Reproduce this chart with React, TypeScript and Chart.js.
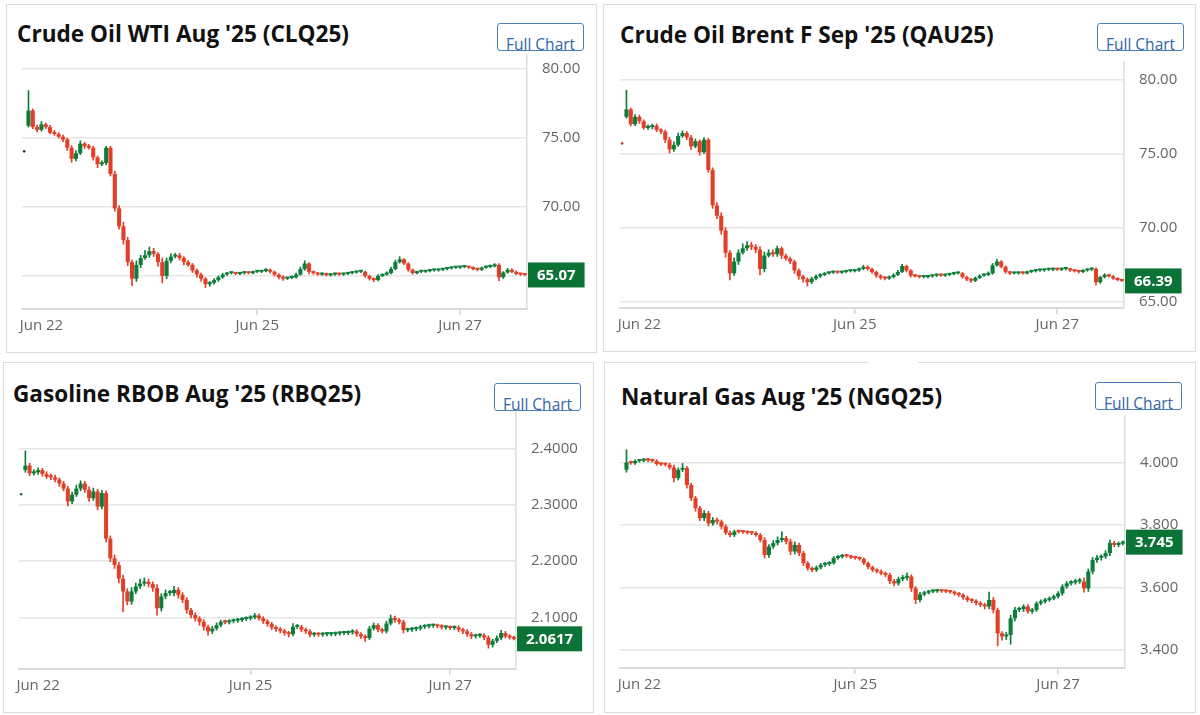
import React, { useEffect, useRef } from "react";
import { Chart, registerables } from "chart.js";
Chart.register(...registerables);

// ---------- shared axis data ----------
const xTickLabels = ["Jun 22", "Jun 25", "Jun 27"];
const xTickSlots = [4, 54, 101];
const slotCount = 117; // slot 0 = previous settlement dot, slots 1..116 = hourly candles

// ---------- Crude Oil WTI ----------
const wtiFirstOpen = 75.9;
const wtiPrevSettle = 74.04;
const wtiTicks = [65, 70, 75, 80];
const wtiClose = [
  77.0, 75.8, 75.6, 76.0, 75.8, 75.4, 75.3, 75.1, 74.9, 74.3,
  73.5, 73.9, 74.6, 74.4, 74.3, 73.6, 73.1, 73.2, 74.3, 72.4,
  69.9, 68.6, 67.6, 66.0, 64.8, 65.8, 66.3, 66.5, 66.8, 66.6,
  66.0, 65.0, 66.1, 66.4, 66.5, 66.3, 66.0, 65.8, 65.4, 65.1,
  64.8, 64.4, 64.5, 64.7, 64.9, 65.1, 65.2, 65.2, 65.15, 65.2,
  65.25, 65.2, 65.3, 65.3, 65.35, 65.45, 65.3, 65.1, 64.9, 64.8,
  64.85, 64.9, 65.1, 65.5, 65.9, 65.3, 65.2, 65.1, 65.15, 65.05,
  65.1, 65.15, 65.1, 65.15, 65.2, 65.25, 65.3, 65.3, 65.0, 64.8,
  64.7, 65.0, 65.1, 65.2, 65.5, 66.0, 66.2, 65.9, 65.45, 65.2,
  65.3, 65.3, 65.35, 65.4, 65.4, 65.45, 65.5, 65.55, 65.6, 65.6,
  65.65, 65.65, 65.6, 65.5, 65.45, 65.6, 65.65, 65.7, 65.8, 64.9,
  65.25, 65.45, 65.3, 65.15, 65.1, 65.07,
];
const wtiWickUp = [
  1.45, .12, .15, .2, .1, .12, .15, .1, .12, .1,
  .15, .2, .2, .1, .15, .12, .1, .15, .1, .1,
  .2, .2, .3, .2, .15, .3, .2, .35, .3, .2,
  .1, .3, .2, .2, .15, .15, .1, .12, .1, .1,
  .1, .08, .1, .1, .1, .1, .06, .06, .06, .06,
  .06, .06, .06, .1, .06, .08, .06, .06, .06, .1,
  .06, .1, .1, .15, .2, .06, .06, .06, .06, .06,
  .06, .06, .06, .06, .06, .06, .06, .06, .06, .06,
  .06, .1, .06, .1, .15, .15, .2, .06, .06, .06,
  .06, .06, .06, .06, .06, .06, .06, .06, .06, .06,
  .06, .06, .06, .06, .06, .06, .06, .1, .1, .1,
  .06, .1, .06, .06, .06, .03,
];
const wtiWickDown = [
  .1, .12, .15, .1, .12, .1, .1, .1, .15, .2,
  .25, .15, .1, .15, .1, .2, .25, .1, .15, .15,
  .2, .2, .3, .25, .5, .2, .2, .1, .15, .2,
  .3, .5, .2, .15, .1, .15, .2, .1, .15, .2,
  .2, .25, .15, .1, .1, .08, .06, .06, .06, .06,
  .06, .06, .06, .06, .06, .06, .1, .1, .12, .12,
  .06, .06, .06, .06, .1, .15, .08, .06, .06, .06,
  .06, .06, .06, .06, .06, .06, .06, .06, .1, .1,
  .12, .06, .06, .06, .06, .06, .06, .08, .12, .08,
  .06, .06, .06, .06, .06, .06, .06, .06, .06, .06,
  .06, .06, .06, .06, .08, .06, .06, .06, .06, .25,
  .08, .06, .06, .06, .06, .03,
];

// ---------- Crude Oil Brent ----------
const brentFirstOpen = 77.5;
const brentPrevSettle = 75.7;
const brentTicks = [65, 70, 75, 80];
const brentClose = [
  78.0, 77.0, 77.5, 77.2, 76.75, 76.8, 76.9, 76.6, 76.5, 75.95,
  75.3, 75.6, 76.2, 76.4, 76.1, 75.5, 75.85, 75.1, 75.95, 73.9,
  71.5, 70.8, 69.8, 68.3, 66.9, 67.7, 68.3, 68.6, 68.8, 68.7,
  68.5, 67.2, 68.1, 68.3, 68.2, 68.6, 68.1, 67.9, 67.7, 67.1,
  66.7, 66.5, 66.3, 66.55, 66.7, 66.8, 66.9, 66.95, 67.0, 66.95,
  67.0, 67.05, 67.05, 67.1, 67.2, 67.35, 67.2, 67.0, 66.75, 66.6,
  66.55, 66.65, 66.8, 67.0, 67.4, 67.1, 66.75, 66.7, 66.65, 66.65,
  66.7, 66.75, 66.8, 66.75, 66.8, 66.85, 66.9, 66.9, 66.65, 66.5,
  66.4, 66.6, 66.75, 66.8, 66.9, 67.45, 67.7, 67.35, 67.0, 66.9,
  66.9, 66.95, 66.9, 67.0, 67.05, 67.1, 67.1, 67.15, 67.15, 67.2,
  67.15, 67.2, 67.2, 67.1, 67.05, 67.0, 67.1, 67.15, 67.2, 66.3,
  66.65, 66.8, 66.7, 66.55, 66.45, 66.39,
];
const brentWickUp = [
  1.3, .1, .15, .12, .1, .15, .1, .12, .1, .1,
  .15, .2, .2, .15, .1, .15, .15, .1, .15, .1,
  .15, .2, .2, .2, .15, .25, .2, .3, .25, .2,
  .15, .2, .25, .2, .2, .15, .1, .1, .1, .1,
  .1, .08, .1, .1, .1, .08, .06, .06, .06, .06,
  .06, .06, .08, .06, .08, .1, .06, .06, .06, .06,
  .06, .08, .08, .1, .12, .06, .06, .06, .06, .06,
  .06, .06, .06, .06, .06, .06, .08, .06, .06, .06,
  .06, .06, .06, .08, .1, .12, .15, .06, .06, .06,
  .06, .06, .06, .06, .06, .06, .06, .06, .06, .06,
  .06, .06, .06, .06, .06, .06, .06, .06, .1, .08,
  .06, .08, .06, .06, .06, .03,
];
const brentWickDown = [
  .1, .12, .1, .15, .1, .1, .12, .1, .15, .2,
  .25, .15, .1, .1, .15, .2, .1, .2, .1, .15,
  .2, .2, .25, .3, .45, .15, .2, .1, .15, .2,
  .2, .4, .2, .1, .15, .15, .2, .1, .15, .2,
  .2, .2, .25, .1, .1, .08, .06, .06, .06, .06,
  .06, .06, .06, .06, .06, .06, .08, .1, .12, .1,
  .1, .06, .06, .06, .06, .1, .1, .06, .06, .06,
  .06, .06, .06, .06, .06, .06, .06, .06, .08, .1,
  .12, .06, .06, .06, .06, .06, .06, .08, .1, .08,
  .06, .06, .06, .06, .06, .06, .06, .06, .06, .06,
  .06, .06, .06, .06, .06, .08, .06, .06, .06, .2,
  .08, .06, .06, .06, .06, .03,
];

// ---------- Gasoline RBOB ----------
const gasFirstOpen = 2.362;
const gasPrevSettle = 2.3188;
const gasTicks = [2.1, 2.2, 2.3, 2.4];
const gasClose = [
  2.370, 2.356, 2.358, 2.362, 2.355, 2.350, 2.349, 2.345, 2.338, 2.329,
  2.306, 2.318, 2.329, 2.338, 2.327, 2.312, 2.324, 2.297, 2.321, 2.240,
  2.205, 2.193, 2.169, 2.146, 2.128, 2.146, 2.155, 2.160, 2.163, 2.159,
  2.152, 2.116, 2.137, 2.143, 2.143, 2.149, 2.140, 2.131, 2.113, 2.104,
  2.098, 2.092, 2.083, 2.075, 2.080, 2.086, 2.092, 2.091, 2.093, 2.094,
  2.095, 2.097, 2.098, 2.100, 2.103, 2.098, 2.093, 2.088, 2.082, 2.079,
  2.076, 2.072, 2.070, 2.083, 2.083, 2.078, 2.075, 2.069, 2.070, 2.069,
  2.070, 2.070, 2.070, 2.071, 2.072, 2.072, 2.073, 2.075, 2.070, 2.066,
  2.063, 2.080, 2.086, 2.078, 2.075, 2.089, 2.098, 2.095, 2.092, 2.077,
  2.078, 2.079, 2.080, 2.083, 2.084, 2.085, 2.085, 2.084, 2.082, 2.082,
  2.081, 2.082, 2.078, 2.075, 2.070, 2.066, 2.067, 2.068, 2.064, 2.051,
  2.058, 2.063, 2.072, 2.066, 2.064, 2.0617,
];
const gasWickUp = [
  .026, .004, .005, .004, .003, .004, .005, .004, .003, .004,
  .004, .005, .006, .005, .004, .005, .006, .004, .005, .004,
  .005, .006, .005, .006, .005, .007, .006, .008, .007, .005,
  .004, .006, .005, .006, .005, .006, .004, .004, .004, .003,
  .004, .003, .004, .003, .004, .004, .003, .003, .003, .003,
  .003, .003, .003, .003, .004, .003, .003, .003, .003, .003,
  .003, .003, .003, .006, .004, .003, .003, .003, .003, .003,
  .003, .003, .003, .003, .003, .003, .003, .003, .003, .003,
  .003, .004, .004, .003, .003, .004, .006, .004, .003, .003,
  .003, .003, .003, .003, .003, .003, .003, .003, .003, .003,
  .003, .003, .003, .003, .003, .003, .003, .003, .003, .003,
  .003, .004, .005, .003, .003, .002,
];
const gasWickDown = [
  .004, .004, .003, .004, .004, .003, .004, .004, .005, .004,
  .008, .004, .003, .004, .005, .006, .004, .006, .004, .006,
  .006, .006, .008, .036, .006, .005, .004, .004, .004, .005,
  .006, .012, .005, .004, .004, .005, .006, .005, .006, .005,
  .005, .006, .006, .007, .004, .003, .003, .003, .003, .003,
  .003, .003, .003, .003, .003, .003, .004, .004, .004, .004,
  .004, .004, .005, .003, .003, .004, .004, .004, .003, .003,
  .003, .003, .003, .003, .003, .003, .003, .003, .004, .004,
  .006, .003, .003, .004, .003, .003, .003, .004, .004, .005,
  .003, .003, .003, .003, .003, .003, .003, .003, .003, .003,
  .003, .003, .004, .004, .004, .004, .003, .003, .004, .006,
  .004, .003, .003, .003, .003, .002,
];

// ---------- Natural Gas ----------
const ngFirstOpen = 3.977;
const ngPrevSettle = null;
const ngTicks = [3.4, 3.6, 3.8, 4.0];
const ngClose = [
  4.000, 3.998, 4.005, 4.006, 4.009, 4.007, 4.005, 3.995, 3.994, 3.993,
  3.984, 3.950, 3.977, 3.982, 3.928, 3.886, 3.854, 3.822, 3.838, 3.805,
  3.816, 3.811, 3.795, 3.775, 3.768, 3.779, 3.778, 3.777, 3.775, 3.774,
  3.768, 3.752, 3.704, 3.731, 3.742, 3.752, 3.758, 3.747, 3.715, 3.736,
  3.710, 3.678, 3.661, 3.656, 3.664, 3.672, 3.675, 3.678, 3.694, 3.698,
  3.702, 3.700, 3.696, 3.694, 3.691, 3.678, 3.665, 3.656, 3.651, 3.645,
  3.640, 3.620, 3.613, 3.627, 3.631, 3.635, 3.597, 3.560, 3.578, 3.583,
  3.587, 3.588, 3.589, 3.588, 3.587, 3.585, 3.580, 3.576, 3.568, 3.560,
  3.557, 3.550, 3.544, 3.539, 3.560, 3.528, 3.453, 3.443, 3.448, 3.501,
  3.528, 3.531, 3.539, 3.523, 3.528, 3.549, 3.555, 3.560, 3.565, 3.571,
  3.581, 3.603, 3.613, 3.616, 3.619, 3.619, 3.597, 3.651, 3.688, 3.695,
  3.699, 3.710, 3.742, 3.736, 3.740, 3.745,
];
const ngWickUp = [
  .041, .005, .004, .004, .004, .004, .004, .004, .004, .004,
  .005, .008, .006, .015, .006, .006, .006, .006, .008, .006,
  .008, .006, .005, .006, .006, .005, .004, .004, .004, .004,
  .005, .005, .008, .006, .008, .010, .020, .006, .008, .010,
  .006, .006, .005, .005, .005, .005, .005, .005, .005, .005,
  .004, .004, .004, .004, .004, .004, .004, .004, .004, .005,
  .005, .006, .006, .006, .008, .012, .006, .006, .006, .005,
  .004, .004, .004, .004, .004, .004, .004, .004, .004, .004,
  .004, .004, .005, .006, .025, .008, .006, .006, .008, .010,
  .008, .006, .006, .006, .005, .005, .005, .005, .005, .005,
  .006, .006, .006, .006, .008, .010, .012, .008, .008, .008,
  .006, .008, .010, .006, .006, .004,
];
const ngWickDown = [
  .008, .004, .004, .004, .004, .004, .004, .004, .004, .004,
  .006, .012, .006, .006, .010, .008, .010, .008, .008, .008,
  .006, .008, .008, .006, .006, .005, .004, .004, .004, .005,
  .005, .006, .010, .008, .006, .006, .006, .008, .010, .008,
  .008, .008, .006, .006, .005, .005, .005, .005, .004, .004,
  .004, .004, .004, .004, .004, .005, .006, .006, .005, .005,
  .006, .008, .008, .006, .006, .008, .010, .012, .006, .005,
  .004, .004, .004, .004, .004, .004, .005, .005, .006, .006,
  .006, .006, .006, .008, .008, .010, .040, .012, .010, .030,
  .008, .006, .008, .006, .006, .005, .005, .005, .005, .005,
  .005, .006, .006, .006, .006, .006, .012, .010, .008, .008,
  .008, .006, .008, .006, .006, .004,
];

// ---------- styling ----------
const GREEN = "#0e7c3a";
const RED = "#e23f29";
const TAG_GREEN = "#0b7336";
const FONT = "'Open Sans', 'Noto Sans', sans-serif";

type PanelCfg = {
  title: string;
  box: { left: number; top: number; width: number; height: number };
  titlePos: { left: number; top: number };
  button: { left: number; top: number };
  plot: { left: number; right: number; top: number; bottom: number };
  yMin: number;
  yMax: number;
  yAxisWidth: number;
  decimals: number;
  ticks: number[];
  firstOpen: number;
  prevSettle: number | null;
  dotColor: string;
  close: number[];
  up: number[];
  down: number[];
};

const panels: PanelCfg[] = [
  {
    title: "Crude Oil WTI Aug '25 (CLQ25)",
    box: { left: 6, top: 4, width: 591, height: 349 },
    titlePos: { left: 17, top: 22 },
    button: { left: 497, top: 23 },
    plot: { left: 18, right: 527, top: 55, bottom: 309 },
    yMin: 62.6, yMax: 81.03, yAxisWidth: 62, decimals: 2, ticks: wtiTicks,
    firstOpen: wtiFirstOpen, prevSettle: wtiPrevSettle, dotColor: "#2b3a33",
    close: wtiClose, up: wtiWickUp, down: wtiWickDown,
  },
  {
    title: "Crude Oil Brent F Sep '25 (QAU25)",
    box: { left: 603, top: 4, width: 593, height: 348 },
    titlePos: { left: 620, top: 23 },
    button: { left: 1097, top: 23 },
    plot: { left: 616, right: 1124, top: 62, bottom: 308 },
    yMin: 64.556, yMax: 81.21, yAxisWidth: 62, decimals: 2, ticks: brentTicks,
    firstOpen: brentFirstOpen, prevSettle: brentPrevSettle, dotColor: "#c0392b",
    close: brentClose, up: brentWickUp, down: brentWickDown,
  },
  {
    title: "Gasoline RBOB Aug '25 (RBQ25)",
    box: { left: 3, top: 362, width: 591, height: 351 },
    titlePos: { left: 13, top: 382 },
    button: { left: 494, top: 383 },
    plot: { left: 15, right: 516, top: 413, bottom: 669 },
    yMin: 2.008, yMax: 2.4635, yAxisWidth: 70, decimals: 4, ticks: gasTicks,
    firstOpen: gasFirstOpen, prevSettle: gasPrevSettle, dotColor: "#1f5f4f",
    close: gasClose, up: gasWickUp, down: gasWickDown,
  },
  {
    title: "Natural Gas Aug '25 (NGQ25)",
    box: { left: 604, top: 362, width: 592, height: 351 },
    titlePos: { left: 621, top: 385 },
    button: { left: 1095, top: 382 },
    plot: { left: 616, right: 1125, top: 416, bottom: 668 },
    yMin: 3.342, yMax: 4.149, yAxisWidth: 62, decimals: 3, ticks: ngTicks,
    firstOpen: ngFirstOpen, prevSettle: ngPrevSettle, dotColor: "#2b3a33",
    close: ngClose, up: ngWickUp, down: ngWickDown,
  },
];

const PAD_TOP = 12;
const X_AXIS_H = 32;

function buildSeries(cfg: PanelCfg) {
  const body: any[] = [null];
  const wick: any[] = [null];
  const colors: string[] = ["rgba(0,0,0,0)"];
  for (let i = 0; i < cfg.close.length; i++) {
    const o = i === 0 ? cfg.firstOpen : cfg.close[i - 1];
    const c = cfg.close[i];
    body.push([o, c]);
    wick.push([Math.min(o, c) - cfg.down[i], Math.max(o, c) + cfg.up[i]]);
    colors.push(c >= o ? GREEN : RED);
  }
  const dot: (number | null)[] = new Array(slotCount).fill(null);
  dot[0] = cfg.prevSettle;
  return { body, wick, colors, dot };
}

function CandlePanel({ cfg }: { cfg: PanelCfg }) {
  const ref = useRef<HTMLCanvasElement | null>(null);
  const width = cfg.plot.right - cfg.plot.left + cfg.yAxisWidth;
  const height = cfg.plot.bottom - cfg.plot.top + PAD_TOP + X_AXIS_H;

  useEffect(() => {
    if (!ref.current) return;
    const { body, wick, colors, dot } = buildSeries(cfg);
    const labels = new Array(slotCount).fill("").map((_, i) => {
      const k = xTickSlots.indexOf(i);
      return k >= 0 ? xTickLabels[k] : "";
    });
    const lastClose = cfg.close[cfg.close.length - 1];

    const priceTag = {
      id: "priceTag",
      afterDraw(chart: any) {
        const ctx = chart.ctx;
        const y = chart.scales.y.getPixelForValue(lastClose);
        const x = chart.chartArea.right + 1;
        const text = lastClose.toFixed(cfg.decimals);
        ctx.save();
        ctx.font = `bold 15px ${FONT}`;
        const w = ctx.measureText(text).width + 18;
        ctx.fillStyle = TAG_GREEN;
        ctx.fillRect(x, y - 12.5, w, 25);
        ctx.fillStyle = "#ffffff";
        ctx.textAlign = "center";
        ctx.textBaseline = "middle";
        ctx.fillText(text, x + w / 2, y + 0.5);
        ctx.restore();
      },
    };

    const chart = new Chart(ref.current, {
      type: "bar",
      data: {
        labels,
        datasets: [
          {
            type: "bar",
            data: wick,
            backgroundColor: colors,
            barThickness: 1,
            grouped: false,
            order: 2,
          } as any,
          {
            type: "bar",
            data: body,
            backgroundColor: colors,
            barPercentage: 0.95,
            categoryPercentage: 1,
            grouped: false,
            minBarLength: 2,
            order: 1,
          } as any,
          {
            type: "line",
            data: dot,
            showLine: false,
            pointRadius: 1.3,
            pointBorderWidth: 0,
            pointBackgroundColor: cfg.dotColor,
            order: 0,
          } as any,
        ],
      },
      options: {
        responsive: false,
        animation: false,
        events: [],
        layout: { padding: { top: PAD_TOP, left: 0, right: 0, bottom: 0 } },
        plugins: { legend: { display: false }, tooltip: { enabled: false } },
        scales: {
          x: {
            type: "category",
            offset: true,
            afterFit: (s: any) => {
              s.height = X_AXIS_H;
              s.paddingLeft = 0;
              s.paddingRight = 0;
            },
            grid: {
              offset: false,
              drawOnChartArea: false,
              drawTicks: true,
              tickLength: 6,
              lineWidth: 1.5,
              tickColor: (ctx: any) =>
                ctx.index === xTickSlots[1] || ctx.index === xTickSlots[2] ? "#d4d4d4" : "rgba(0,0,0,0)",
            },
            border: { display: true, color: "#d9d9d9", width: 2 },
            ticks: {
              autoSkip: false,
              maxRotation: 0,
              padding: 2,
              color: "#666666",
              font: { family: FONT, size: 15 },
            },
          },
          y: {
            type: "linear",
            position: "right",
            min: cfg.yMin,
            max: cfg.yMax,
            afterFit: (s: any) => {
              s.width = cfg.yAxisWidth;
              s.paddingTop = 0;
              s.paddingBottom = 0;
            },
            afterBuildTicks: (s: any) => { s.ticks = cfg.ticks.map((v) => ({ value: v })); },
            grid: { color: "#e6e6e6", lineWidth: 1.5, drawTicks: false },
            border: { display: true, color: "#dedede", width: 1.5 },
            ticks: {
              padding: 15,
              color: "#666666",
              font: { family: FONT, size: 15 },
              callback: (v: any) => Number(v).toFixed(cfg.decimals),
            },
          },
        },
      } as any,
      plugins: [priceTag],
    });
    return () => chart.destroy();
  }, [cfg]);

  return (
    <>
      <div
        style={{
          position: "absolute",
          left: cfg.box.left,
          top: cfg.box.top,
          width: cfg.box.width,
          height: cfg.box.height,
          boxSizing: "border-box",
          border: "1px solid #dcdcdc",
          background: "#ffffff",
        }}
      />
      <div
        style={{
          position: "absolute",
          left: cfg.titlePos.left,
          top: cfg.titlePos.top,
          font: `bold 22.6px ${FONT}`,
          lineHeight: "23px",
          color: "#111111",
          whiteSpace: "nowrap",
        }}
      >
        {cfg.title}
      </div>
      <div
        style={{
          position: "absolute",
          left: cfg.button.left,
          top: cfg.button.top,
          width: 87,
          height: 28,
          boxSizing: "border-box",
          border: "1px solid #4f7fba",
          borderRadius: 3,
          overflow: "hidden",
          background: "#ffffff",
        }}
      >
        <span
          style={{
            position: "absolute",
            left: 8,
            top: 13,
            font: `15.5px ${FONT}`,
            lineHeight: "15px",
            color: "#3466a8",
            whiteSpace: "nowrap",
          }}
        >
          Full Chart
        </span>
      </div>
      <canvas
        ref={ref}
        width={width}
        height={height}
        style={{
          position: "absolute",
          left: cfg.plot.left,
          top: cfg.plot.top - PAD_TOP,
          width,
          height,
        }}
      />
    </>
  );
}

export default function App() {
  return (
    <div
      style={{
        position: "absolute",
        left: 0,
        top: 0,
        width: 1200,
        height: 715,
        background: "#ffffff",
        fontFamily: FONT,
        overflow: "hidden",
      }}
    >
      {panels.map((p) => (
        <CandlePanel key={p.title} cfg={p} />
      ))}
      <div style={{ position: "absolute", left: 868, top: 360, width: 50, height: 4, background: "#ffffff" }} />
    </div>
  );
}
